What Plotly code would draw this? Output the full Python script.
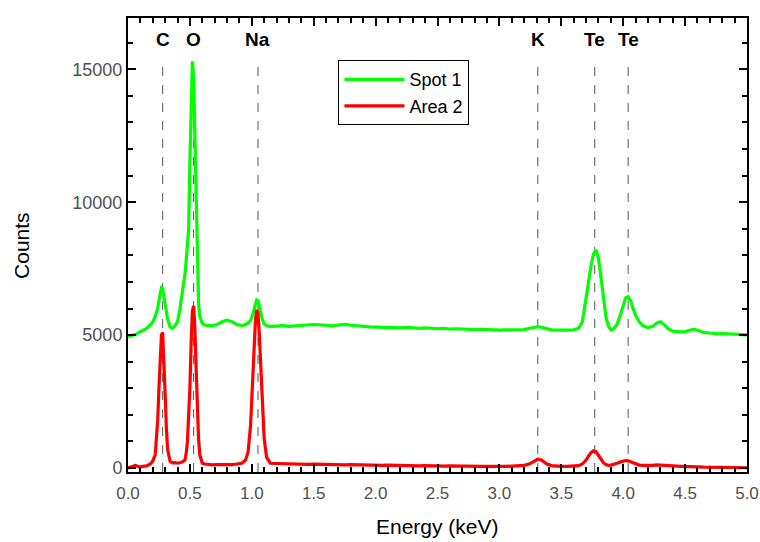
import plotly.graph_objects as go

# Energy (keV)
energy = [
    0.00, 0.03, 0.06, 0.09, 0.12, 0.15, 0.18, 0.20, 0.22, 0.24,
    0.25, 0.26, 0.27, 0.28, 0.29, 0.30, 0.31, 0.32, 0.34, 0.36,
    0.38, 0.40, 0.42, 0.44, 0.46, 0.47, 0.48, 0.49, 0.50, 0.51,
    0.52, 0.53, 0.54, 0.55, 0.56, 0.57, 0.58, 0.60, 0.62, 0.65,
    0.68, 0.72, 0.76, 0.80, 0.84, 0.88, 0.92, 0.95, 0.97, 0.99,
    1.00, 1.01, 1.02, 1.03, 1.04, 1.05, 1.06, 1.07, 1.08, 1.09,
    1.10, 1.12, 1.15, 1.20, 1.25, 1.30, 1.35, 1.40, 1.45, 1.50,
    1.55, 1.60, 1.65, 1.70, 1.75, 1.80, 1.85, 1.90, 1.95, 2.00,
    2.05, 2.10, 2.15, 2.20, 2.25, 2.30, 2.35, 2.40, 2.45, 2.50,
    2.55, 2.60, 2.65, 2.70, 2.75, 2.80, 2.85, 2.90, 2.95, 3.00,
    3.05, 3.10, 3.15, 3.20, 3.24, 3.28, 3.31, 3.34, 3.38, 3.42,
    3.46, 3.50, 3.55, 3.60, 3.64, 3.67, 3.70, 3.72, 3.74, 3.76,
    3.78, 3.80, 3.82, 3.84, 3.86, 3.88, 3.90, 3.92, 3.95, 3.98,
    4.00, 4.02, 4.04, 4.06, 4.08, 4.10, 4.13, 4.16, 4.20, 4.24,
    4.27, 4.30, 4.33, 4.36, 4.40, 4.45, 4.50, 4.54, 4.57, 4.60,
    4.65, 4.70, 4.75, 4.80, 4.85, 4.90, 4.95, 5.00,
]

# Counts, Spot 1
spot1 = [
    4950, 4990, 5020, 5100, 5180, 5250, 5380, 5500, 5700, 6000,
    6300, 6600, 6780, 6750, 6450, 6150, 5900, 5600, 5300, 5260,
    5350, 5500, 6000, 6600, 7300, 7800, 8300, 9000, 11500, 14300,
    15300, 14700, 12500, 9500, 7200, 6200, 5700, 5450, 5380, 5360,
    5350, 5400, 5500, 5560, 5500, 5400, 5360, 5400, 5450, 5550,
    5650, 5800, 6000, 6200, 6320, 6300, 6150, 5900, 5650, 5500,
    5420, 5350, 5330, 5340, 5360, 5330, 5350, 5370, 5380, 5400,
    5390, 5370, 5350, 5380, 5400, 5370, 5340, 5320, 5310, 5300,
    5290, 5300, 5280, 5270, 5290, 5260, 5250, 5270, 5250, 5240,
    5250, 5230, 5240, 5220, 5230, 5210, 5220, 5200, 5210, 5190,
    5200, 5190, 5200, 5210, 5240, 5290, 5320, 5290, 5230, 5200,
    5190, 5180, 5190, 5200, 5260, 5500, 6300, 7000, 7600, 8050,
    8200, 7900, 7200, 6400, 5700, 5350, 5200, 5220, 5400, 5800,
    6150, 6400, 6450, 6300, 6000, 5750, 5500, 5350, 5280, 5330,
    5450, 5500, 5400, 5250, 5150, 5120, 5130, 5180, 5220, 5180,
    5100, 5080, 5050, 5060, 5050, 5060, 5030, 5010,
]

# Counts, Area 2
area2 = [
    0, 60, 100, 40, 60, 80, 150, 260, 500, 1800,
    3000, 4300, 5000, 5100, 4200, 2800, 1500, 700, 250, 190,
    200, 180, 200, 230, 300, 550, 1000, 1800, 3000, 4700,
    5900, 6100, 5300, 3800, 2300, 1100, 500, 180, 150, 130,
    120, 130, 120, 140, 130, 150, 180, 300, 600, 1600,
    2500, 3700, 4800, 5600, 5950, 5800, 5100, 4000, 3000, 1900,
    1100, 400, 180, 170, 160, 150, 160, 150, 140, 150,
    140, 130, 140, 130, 120, 130, 120, 110, 120, 110,
    100, 110, 100, 90, 100, 90, 80, 90, 80, 80,
    70, 80, 70, 70, 60, 70, 60, 60, 70, 60,
    60, 70, 80, 100, 150, 260, 330, 300, 160, 90,
    70, 60, 60, 70, 90, 150, 300, 450, 580, 650,
    620, 480, 320, 200, 130, 100, 110, 130, 180, 230,
    260, 280, 270, 240, 190, 150, 110, 100, 90, 100,
    120, 110, 90, 80, 70, 60, 50, 50, 60, 40,
    30, 30, 20, 20, 20, 10, 10, 10,
]

# Element lines
element_names = ["C", "O", "Na", "K", "Te", "Te"]
element_energy = [0.28, 0.53, 1.05, 3.31, 3.77, 4.04]

FONT = "Liberation Sans, Arial, sans-serif"

fig = go.Figure()
fig.add_trace(go.Scatter(x=energy, y=spot1, mode="lines", name="Spot 1",
                         line=dict(color="#00ff00", width=3.2)))
fig.add_trace(go.Scatter(x=energy, y=area2, mode="lines", name="Area 2",
                         line=dict(color="#ff0000", width=3.2)))

for name, e in zip(element_names, element_energy):
    fig.add_shape(type="line", xref="x", yref="paper", x0=e, x1=e, y0=0, y1=0.905,
                  line=dict(color="#555555", width=1, dash="dash"), layer="below")
    fig.add_annotation(x=e, y=0.952, xref="x", yref="paper", text="<b>%s</b>" % name,
                       yanchor="middle", showarrow=False,
                       font=dict(family=FONT, size=19, color="black"))

fig.add_annotation(x=-0.173, y=0.5, xref="paper", yref="paper", text="Counts",
                   textangle=-90, showarrow=False, xanchor="center", yanchor="middle",
                   font=dict(family=FONT, size=21, color="black"))
fig.add_annotation(x=0.5, y=-0.121, xref="paper", yref="paper", text="Energy (keV)",
                   showarrow=False, xanchor="center", yanchor="middle",
                   font=dict(family=FONT, size=21, color="black"))

axis_common = dict(
    ticks="inside", ticklen=8, tickwidth=1.5, tickcolor="black",
    showline=True, linecolor="black", linewidth=2, mirror="allticks",
    showgrid=False, zeroline=False, automargin=False,
)

fig.update_xaxes(range=[0, 5], tick0=0, dtick=0.5, tickformat=".1f",
                 ticklabelstandoff=5,
                 tickfont=dict(family=FONT, size=17, color="#505050"),
                 minor=dict(ticks="inside", dtick=0.1, ticklen=5, tickwidth=1.5,
                            tickcolor="black", showgrid=False),
                 **axis_common)
fig.update_yaxes(range=[-150, 16930], tick0=0, dtick=5000, tickformat="d",
                 tickfont=dict(family=FONT, size=18, color="#505050"),
                 minor=dict(ticks="inside", dtick=1000, ticklen=5, tickwidth=1.5,
                            tickcolor="black", showgrid=False),
                 **axis_common)

fig.update_layout(
    width=760, height=542,
    margin=dict(l=128, r=13, t=18, b=70),
    paper_bgcolor="white", plot_bgcolor="white",
    showlegend=True,
    legend=dict(x=0.34, y=0.907, xanchor="left", yanchor="top",
                bgcolor="white", bordercolor="black", borderwidth=1,
                font=dict(family=FONT, size=18, color="black"),
                itemwidth=60, tracegroupgap=0),
)

# Remove the default 8px page margin so the figure fills the window exactly.
fig.write_html("out.html",
               config={"displayModeBar": False},
               post_script="document.body.style.margin='0px';"
                           "document.body.style.overflow='hidden';")
